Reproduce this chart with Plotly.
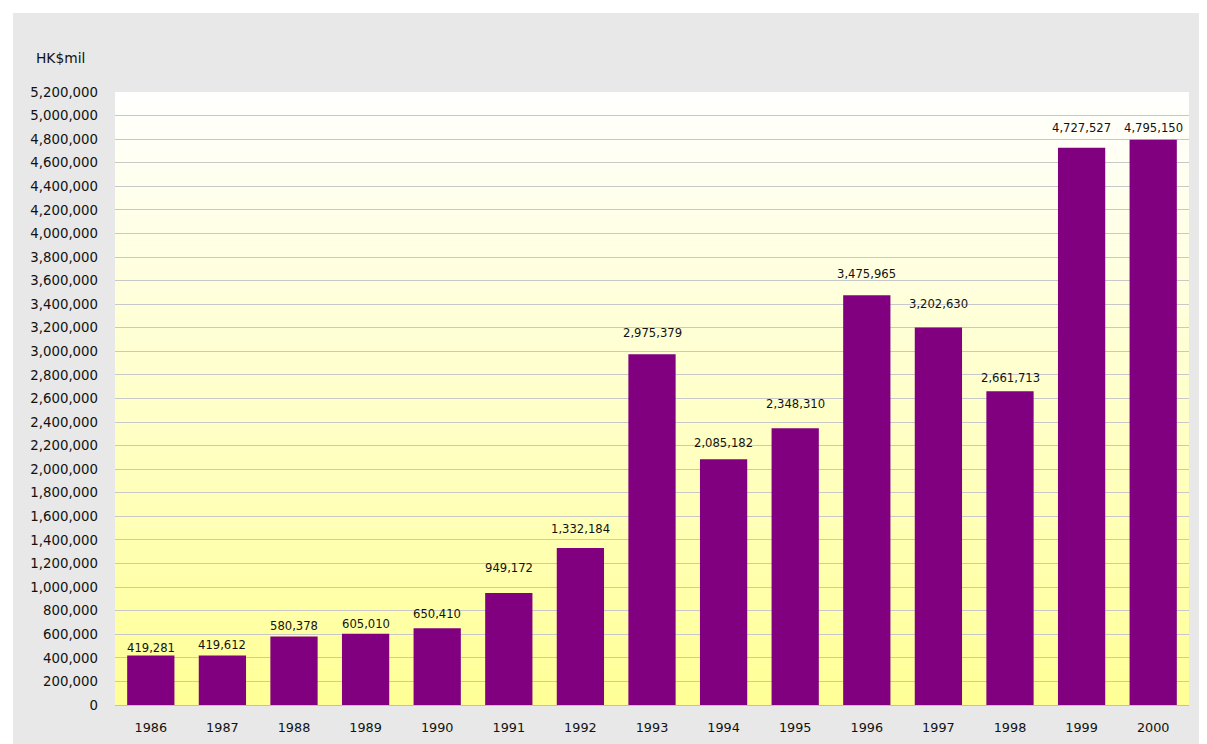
import plotly.graph_objects as go

years = ["1986", "1987", "1988", "1989", "1990", "1991", "1992", "1993",
         "1994", "1995", "1996", "1997", "1998", "1999", "2000"]
values = [419281, 419612, 580378, 605010, 650410, 949172, 1332184, 2975379,
          2085182, 2348310, 3475965, 3202630, 2661713, 4727527, 4795150]
# label vertical offsets (px above bar top) as placed in the original
label_shift = [8, 11, 11, 10, 14, 25, 19, 21, 16, 24, 21, 23, 13, 20, 12]

ytick_vals = list(range(0, 5200001, 200000))
ytick_text = [f"{v:,}" for v in ytick_vals]

FONT = "DejaVu Sans, Liberation Sans, Arial"
OFF = 8  # page body margin
W, H = 1199, 736
L, T = 115 - OFF, 92 - OFF
R = (OFF + W) - 1189
B = (OFF + H) - 705
pw, ph = W - L - R, H - T - B

def px_to_paper_x(px):  # page px -> paper
    return (px - OFF - L) / pw

def px_to_paper_y(py):
    return (OFF + H - B - py) / ph

fig = go.Figure()
fig.add_trace(go.Bar(
    x=years, y=values,
    marker=dict(color="#800080", line=dict(width=0)),
    hoverinfo="x+y",
))

shapes = []
shapes.append(dict(type="rect", xref="paper", yref="paper", layer="below",
                   x0=px_to_paper_x(13), x1=px_to_paper_x(1230),
                   y0=px_to_paper_y(770), y1=px_to_paper_y(13),
                   fillcolor="#e8e8e8", line=dict(width=0)))
N = 120
for i in range(N):
    f = (i + 0.5) / N
    b = round(254 - f * (254 - 150))
    y1 = 1 - i / N
    y0 = 1 - (i + 1) / N
    shapes.append(dict(type="rect", xref="paper", yref="paper", layer="below",
                       x0=0, x1=1, y0=y0 - 0.001, y1=y1,
                       fillcolor=f"rgb(255,255,{b})", line=dict(width=0)))

annotations = []
for i, (v, s) in enumerate(zip(values, label_shift)):
    annotations.append(dict(x=i, y=v, xref="x", yref="y", text=f"{v:,}",
                            showarrow=False, yanchor="middle", yshift=s,
                            font=dict(family=FONT, size=11.6, color="#111111")))
annotations.append(dict(x=px_to_paper_x(34), y=px_to_paper_y(58), xref="paper", yref="paper",
                        text="HK$mil", showarrow=False, xanchor="left", yanchor="middle",
                        font=dict(family=FONT, size=13.8, color="#111111")))

fig.update_layout(
    width=W, height=H,
    margin=dict(l=L, r=R, t=T, b=B, pad=0, autoexpand=False),
    paper_bgcolor="white",
    plot_bgcolor="rgba(0,0,0,0)",
    shapes=shapes,
    annotations=annotations,
    bargap=0.34,
    showlegend=False,
    font=dict(family=FONT, size=13, color="#111111"),
    xaxis=dict(type="category", range=[-0.5, len(years) - 0.5], showgrid=False,
               showline=True, linecolor="#c0c0c0", linewidth=1, ticks="",
               ticklabelstandoff=11, zeroline=False, tickfont=dict(size=12.8),
               automargin=False),
    yaxis=dict(range=[0, 5200000], tickvals=ytick_vals, ticktext=ytick_text,
               showgrid=True, gridcolor="#c8c8c8", gridwidth=1, zeroline=False,
               showline=False, ticks="", ticklabelstandoff=16,
               tickfont=dict(size=13.3), automargin=False),
)
fig.write_html("out.html")
